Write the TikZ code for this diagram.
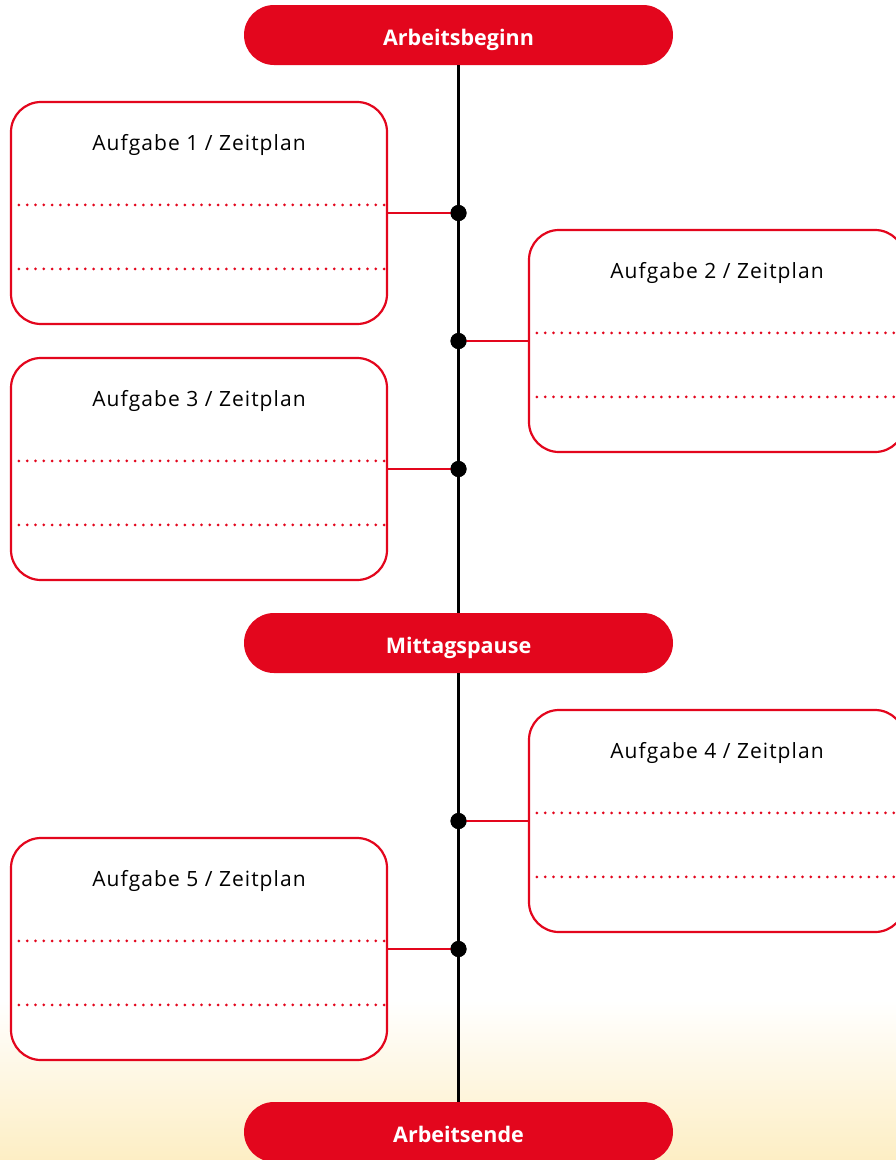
\documentclass[tikz,border=0pt]{standalone}
\usepackage{fontspec}
\setmainfont{Open Sans}
\newfontfamily\titlefont[LetterSpace=5]{Open Sans}
\usetikzlibrary{calc}
\definecolor{brandred}{RGB}{227,6,29}
\definecolor{warm}{RGB}{253,238,196}
\begin{document}
\begin{tikzpicture}[x=1pt,y=-1pt,
  pill/.style={fill=brandred, draw=none, rounded corners=30pt, minimum width=429pt, minimum height=60pt, inner sep=0pt, text height=21pt, text depth=0pt, text=white, font=\fontsize{21.5}{24}\selectfont\bfseries},
  taskbox/.style={draw=brandred, line width=2.2pt, fill=white, rounded corners=30pt, minimum width=376pt, minimum height=222pt, inner sep=0pt},
  tasktitle/.style={font=\titlefont\fontsize{21}{24}\selectfont, text=black, inner sep=0pt, anchor=base},
  dotline/.style={draw=brandred, line width=3pt, line cap=round, dash pattern=on 0pt off 8.3pt},
  conn/.style={draw=brandred, line width=2.2pt},
  spine/.style={draw=black, line width=2.5pt},
  joint/.style={circle, fill=black, minimum size=16pt, inner sep=0pt}
]
\useasboundingbox (0,0) rectangle (896,1160);
\fill[white] (0,0) rectangle (896,1160);
\shade[top color=white, bottom color=warm, draw=none] (0,1000) rectangle (896,1160);

% pills
\node[pill] (start) at (458.5,35) {Arbeitsbeginn};
\node[pill] (lunch) at (458.5,643) {Mittagspause};
\node[pill] (end) at (458.5,1132) {Arbeitsende};

% spine
\draw[spine] (start.south) -- (lunch.north);
\draw[spine] (lunch.south) -- (end.north);

% boxes
\node[taskbox] (b1) at (199,213) {};
\node[taskbox] (b2) at (717,341) {};
\node[taskbox] (b3) at (199,469) {};
\node[taskbox] (b4) at (717,821) {};
\node[taskbox] (b5) at (199,949) {};

\node[tasktitle] (t1) at ($(b1.north)+(0,50)$) {Aufgabe 1 / Zeitplan};
\node[tasktitle] (t2) at ($(b2.north)+(0,50)$) {Aufgabe 2 / Zeitplan};
\node[tasktitle] (t3) at ($(b3.north)+(0,50)$) {Aufgabe 3 / Zeitplan};
\node[tasktitle] (t4) at ($(b4.north)+(0,50)$) {Aufgabe 4 / Zeitplan};
\node[tasktitle] (t5) at ($(b5.north)+(0,50)$) {Aufgabe 5 / Zeitplan};

% dotted lines
\foreach \b in {b1,b2,b3,b4,b5}{
  \draw[dotline] ($(\b.north west)+(9,104)$) -- ($(\b.north east)+(-4,104)$);
  \draw[dotline] ($(\b.north west)+(9,168)$) -- ($(\b.north east)+(-4,168)$);
}

% joints
\node[joint] (j1) at (458.5,213) {};
\node[joint] (j2) at (458.5,341) {};
\node[joint] (j3) at (458.5,469) {};
\node[joint] (j4) at (458.5,821) {};
\node[joint] (j5) at (458.5,949) {};

% connectors
\draw[conn] (b1.east) -- (j1.center);
\draw[conn] (b2.west) -- (j2.center);
\draw[conn] (b3.east) -- (j3.center);
\draw[conn] (b4.west) -- (j4.center);
\draw[conn] (b5.east) -- (j5.center);
\foreach \j in {j1,j2,j3,j4,j5}{ \fill (\j) circle (8pt); }
\end{tikzpicture}
\end{document}
